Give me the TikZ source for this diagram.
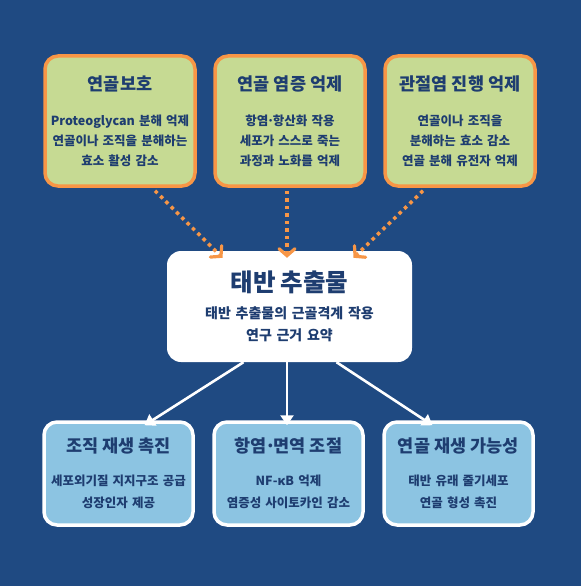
\documentclass[tikz,border=0pt]{standalone}
\usepackage{fontspec}
\newfontfamily\kr{Noto Sans CJK KR}
\usetikzlibrary{arrows.meta}
\definecolor{bgC}{HTML}{1F4A82}
\definecolor{greenC}{HTML}{C6DA93}
\definecolor{orangeC}{HTML}{F79646}
\definecolor{blueC}{HTML}{8CC4E2}
\definecolor{navyT}{HTML}{1E3D70}
\newcommand{\mdot}{\kern-0.12em·\kern-0.12em}
\tikzset{
  topbox/.style={draw=orangeC, line width=3.5pt, fill=greenC, rounded corners=13pt,
    minimum width=150pt, minimum height=130pt, text width=146pt, align=center,
    text=navyT, font=\kr\bfseries\fontsize{12.5}{20}\selectfont, inner sep=0pt},
  botbox/.style={draw=white, line width=3.5pt, fill=blueC, rounded corners=13pt,
    minimum width=149pt, minimum height=103pt, text width=146pt, align=center,
    text=navyT, font=\kr\bfseries\fontsize{12.5}{22}\selectfont, inner sep=0pt},
  centerbox/.style={fill=white, rounded corners=14pt,
    minimum width=245pt, minimum height=111pt, text width=240pt, align=center,
    text=navyT, font=\kr\bfseries\fontsize{14}{22}\selectfont, inner sep=0pt},
  dotarrow/.style={draw=orangeC, line width=3.5pt, dash pattern=on 3.5pt off 4pt,
    -{Straight Barb[length=7pt,width=16pt,line width=3.2pt,line cap=round]}},
  whitearrow/.style={draw=white, line width=2.6pt,
    -{Triangle[length=10pt,width=13pt]}}
}
\begin{document}
\begin{tikzpicture}[x=1pt,y=-1pt]
\fill[bgC] (0,0) rectangle (581,586);
\useasboundingbox (0,0) rectangle (581,586);

\node[topbox] (t1) at (120,121) {{\fontsize{17.5}{20}\selectfont 연골보호}\\[15pt]Proteoglycan 분해 억제\\연골이나 조직을 분해하는\\효소 활성 감소};
\node[topbox] (t2) at (290,121) {{\fontsize{17.5}{20}\selectfont 연골 염증 억제}\\[15pt]항염\mdot 항산화 작용\\세포가 스스로 죽는\\과정과 노화를 억제};
\node[topbox] (t3) at (460,121) {{\fontsize{17.5}{20}\selectfont 관절염 진행 억제}\\[15pt]연골이나 조직을\\분해하는 효소 감소\\연골 분해 유전자 억제};

\node[centerbox] (c) at (289.5,306.5) {{\fontsize{24.5}{22}\selectfont 태반 추출물}\\[5.6pt]태반 추출물의 근골격계 작용\\연구 근거 요약};

\node[botbox] (b1) at (118.5,473.5) {{\fontsize{17.5}{22}\selectfont 조직 재생 촉진}\\[11pt]세포외기질 지지구조 공급\\성장인자 제공};
\node[botbox] (b2) at (288.5,473.5) {{\fontsize{17.5}{22}\selectfont 항염\mdot 면역 조절}\\[11pt]NF-κB 억제\\염증성 사이토카인 감소};
\node[botbox] (b3) at (458.5,473.5) {{\fontsize{17.5}{22}\selectfont 연골 재생 가능성}\\[11pt]태반 유래 줄기세포\\연골 형성 촉진};

\draw[dotarrow] ([xshift=35pt,yshift=-3pt]t1.south) -- ([xshift=-67pt,yshift=-7pt]c.north);
\draw[dotarrow] ([xshift=-3pt,yshift=-3pt]t2.south) -- ([xshift=-2.5pt,yshift=-7pt]c.north);
\draw[dotarrow] ([xshift=-37pt,yshift=-3pt]t3.south) -- ([xshift=64pt,yshift=-7pt]c.north);

\draw[whitearrow] ([xshift=-46pt]c.south) -- ([xshift=26pt,yshift=-5pt]b1.north);
\draw[whitearrow] ([xshift=-2.5pt]c.south) -- ([xshift=-1.5pt,yshift=-5pt]b2.north);
\draw[whitearrow] ([xshift=47pt]c.south) -- ([xshift=-26pt,yshift=-5pt]b3.north);
\end{tikzpicture}
\end{document}
